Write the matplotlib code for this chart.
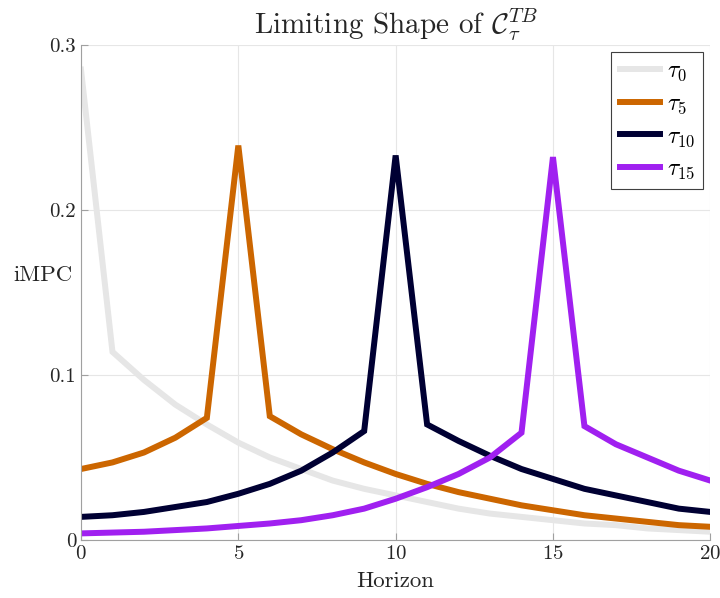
import numpy as np
import matplotlib.pyplot as plt

plt.rcParams['font.family'] = 'serif'
plt.rcParams['font.serif'] = ['cmr10']
plt.rcParams['mathtext.fontset'] = 'cm'
plt.rcParams['axes.formatter.use_mathtext'] = True

horizon = np.arange(21)

tau0 = [0.285, 0.114, 0.097, 0.082, 0.070, 0.059, 0.050, 0.043, 0.036, 0.031, 0.027,
        0.023, 0.019, 0.016, 0.014, 0.012, 0.010, 0.009, 0.007, 0.006, 0.005]
tau5 = [0.043, 0.047, 0.053, 0.062, 0.074, 0.239, 0.075, 0.064, 0.055, 0.047, 0.040,
        0.034, 0.029, 0.025, 0.021, 0.018, 0.015, 0.013, 0.011, 0.009, 0.008]
tau10 = [0.014, 0.015, 0.017, 0.020, 0.023, 0.028, 0.034, 0.042, 0.053, 0.066, 0.233,
         0.070, 0.060, 0.051, 0.043, 0.037, 0.031, 0.027, 0.023, 0.019, 0.017]
tau15 = [0.004, 0.0045, 0.005, 0.006, 0.007, 0.0085, 0.010, 0.012, 0.015, 0.019, 0.025,
         0.032, 0.040, 0.050, 0.065, 0.232, 0.069, 0.058, 0.050, 0.042, 0.036]

series = [tau0, tau5, tau10, tau15]
labels = [r'$\tau_{0}$', r'$\tau_{5}$', r'$\tau_{10}$', r'$\tau_{15}$']
colors = ['#e6e6e6', '#cc6600', '#000033', '#a020f0']

fig = plt.figure(figsize=(7.2, 5.98), dpi=100)
ax = fig.add_axes([0.1125, 0.097, 0.874, 0.828])

for y, lab, c in zip(series, labels, colors):
    ax.plot(horizon, y, color=c, lw=4.3, label=lab, solid_joinstyle='miter')

ax.set_xlim(0, 20)
ax.set_ylim(0, 0.3)
ax.set_xticks([0, 5, 10, 15, 20])
ax.set_yticks([0, 0.1, 0.2, 0.3])
ax.set_yticklabels(['0', '0.1', '0.2', '0.3'])
ax.grid(True, color='#e6e6e6', lw=0.8)
ax.set_axisbelow(True)
for s in ['top', 'right']:
    ax.spines[s].set_visible(False)
for s in ['left', 'bottom']:
    ax.spines[s].set_color('#a0a0a0')
ax.tick_params(direction='in', length=5, color='#a0a0a0', labelsize=15, labelcolor='#262626')

ax.set_title(r'Limiting Shape of $\mathcal{C}_\tau^{TB}$', fontsize=21, color='#262626', pad=8)
ax.set_xlabel('Horizon', fontsize=16.5, color='#262626', labelpad=6)
ax.set_ylabel('iMPC', fontsize=16.5, color='#262626', rotation=0, ha='center', va='center')
ax.yaxis.set_label_coords(-0.061, 0.535)

leg = ax.legend(loc='upper right', fontsize=17, handlelength=1.7, handletextpad=0.3,
                fancybox=False, framealpha=1, edgecolor='#404040', borderaxespad=0.3,
                labelspacing=0.4, borderpad=0.35)
leg.get_frame().set_linewidth(0.8)

fig.savefig('out.png', dpi=100)
